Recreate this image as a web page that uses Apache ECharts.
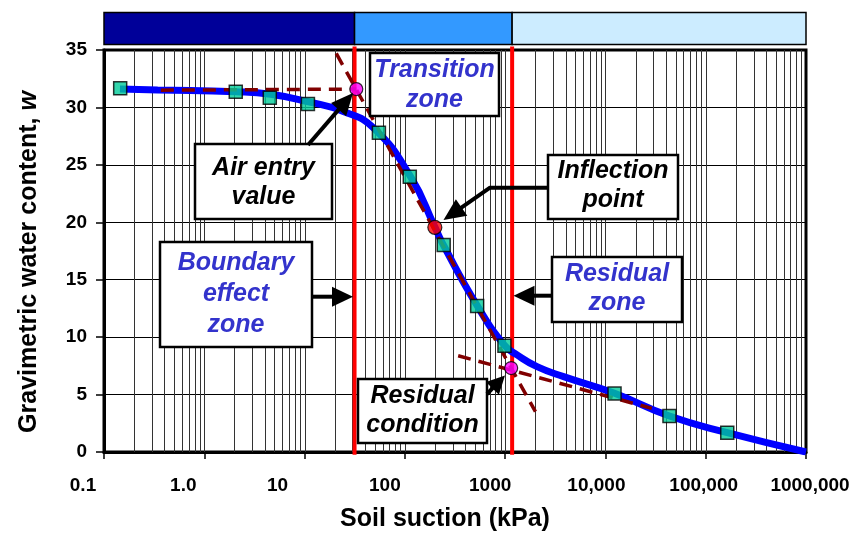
<!DOCTYPE html>
<html>
<head>
<meta charset="utf-8">
<script src="https://cdn.jsdelivr.net/npm/echarts@6/dist/echarts.min.js"></script>
<style>
html,body{margin:0;padding:0;background:#fff;}
#chart{width:864px;height:533px;}
</style>
</head>
<body>
<div id="chart"></div>
<script>
// ---------- data ----------
const suctionPts = [0.145, 2.06, 4.5, 10.8, 55.1, 112, 244, 526, 984, 12330, 43500, 164000];
const waterPts   = [31.66, 31.37, 30.85, 30.30, 27.80, 23.97, 18.02, 12.71, 9.24, 5.09, 3.13, 1.68];

const curveSuction = [0.1442, 0.343, 2.06, 4.6, 10.7, 24.7, 49.1, 114, 199, 243, 530, 984, 1315, 2080, 3830, 12330, 43500, 164000, 1000000];
const curveWater   = [31.6, 31.52, 31.37, 31.14, 30.5, 29.63, 28.18, 23.97, 19.6, 18.0, 12.7, 9.3, 8.45, 7.43, 6.56, 5.11, 3.13, 1.68, 0];

const airEntryPoint   = [32.8, 31.6];
const inflectionPoint = [199, 19.56];
const residualPoint   = [1148, 7.31];

const boundaryLines = [31.5, 1174];
const zoneBounds = [0.1, 31.5, 1174, 1000000];
const zoneColors = ['#000099', '#3399FF', '#CCECFF'];

const airEntryTangentX = [0.369, 32.8];
const airEntryTangentY = [31.5, 31.6];
const slopeTangentX = [20.7, 2005];
const slopeTangentY = [34.7, 3.51];
const residualTangentX = [340, 29000];
const residualTangentY = [8.38, 3.80];

const xTickLabels = ['0.1', '1.0', '10', '100', '1000', '10,000', '100,000', '1000,000'];
const xLabelShift = [-21, -21, -27, -20, -15, -9, -2, 4];
const yTicks = [0, 5, 10, 15, 20, 25, 30, 35];

// vertical log grid lines
const vGridValues = [];
for (let k = -1; k < 6; k++) {
  for (let m = 1; m <= 9; m++) {
    if (m === 1 && k === -1) continue;
    vGridValues.push(m * Math.pow(10, k));
  }
}

const FONT = "'Liberation Sans', Arial, sans-serif";

// ---------- build ----------
const chart = echarts.init(document.getElementById('chart'), null, {renderer: 'canvas'});

const rich = {};
xLabelShift.forEach((s, i) => {
  rich['l' + i] = {
    fontFamily: FONT, fontWeight: 'bold', fontSize: 19, color: '#000',
    padding: s < 0 ? [0, -2 * s, 0, 0] : [0, 0, 0, 2 * s]
  };
});

function zip(a, b) { return a.map((v, i) => [v, b[i]]); }

function arrow(pts, headLen, headHalf) {
  const n = pts.length;
  const tip = pts[n - 1], prev = pts[n - 2];
  const dx = tip[0] - prev[0], dy = tip[1] - prev[1];
  const len = Math.sqrt(dx * dx + dy * dy);
  const ux = dx / len, uy = dy / len;
  const bx = tip[0] - ux * headLen, by = tip[1] - uy * headLen;
  const shaft = pts.slice(0, n - 1).concat([[bx + ux * 2, by + uy * 2]]);
  return [
    {type: 'polyline', shape: {points: shaft}, style: {stroke: '#000', lineWidth: 4, fill: null, lineJoin: 'round'}, z: 120},
    {type: 'polygon', shape: {points: [tip, [bx - uy * headHalf, by + ux * headHalf], [bx + uy * headHalf, by - ux * headHalf]]},
     style: {fill: '#000'}, z: 121}
  ];
}

function box(x1, y1, x2, y2, text, color, cy, lh) {
  return [
    {type: 'rect', shape: {x: x1, y: y1, width: x2 - x1, height: y2 - y1},
     style: {fill: '#fff', stroke: '#000', lineWidth: 2.5}, z: 110},
    {type: 'text', x: (x1 + x2) / 2, y: cy,
     style: {text: text, fill: color, fontFamily: FONT, fontWeight: 'bold', fontStyle: 'italic',
             fontSize: 25, lineHeight: lh || 29, align: 'center', verticalAlign: 'middle'}, z: 111}
  ];
}

const BLUE_TXT = '#3333CC';
let graphics = [];
graphics = graphics
  .concat(box(370, 53, 499, 116, 'Transition\nzone', BLUE_TXT, 85, 30))
  .concat(box(195, 144, 332, 219, 'Air entry\nvalue', '#000', 182.5, 29))
  .concat(box(548, 155, 678, 219, 'Inflection\npoint', '#000', 186, 29))
  .concat(box(160, 242, 312, 347, 'Boundary\neffect\nzone', BLUE_TXT, 294, 31))
  .concat(box(552, 257, 682, 322, 'Residual\nzone', BLUE_TXT, 289, 29))
  .concat(box(358, 379, 487, 443, 'Residual\ncondition', '#000', 410.5, 29))
  .concat(arrow([[308, 145], [353, 93]], 22, 10))
  .concat(arrow([[549, 187.7], [490, 187.7], [443.5, 220]], 22, 10))
  .concat(arrow([[313, 296.7], [353, 296.7]], 21, 10))
  .concat(arrow([[551, 295.7], [513.5, 295.7]], 21, 10))
  .concat(arrow([[487, 394], [505, 375.5]], 18, 9));

const option = {
  animation: false,
  backgroundColor: '#fff',
  grid: [
    {left: 104, right: 58, top: 50, bottom: 81, show: true, borderColor: '#000', borderWidth: 3,
     backgroundColor: 'transparent', containLabel: false, outerBoundsMode: 'none'},
    {left: 104, right: 58, top: 12.5, height: 32, show: false, containLabel: false, outerBoundsMode: 'none'}
  ],
  xAxis: [
    {
      type: 'log', logBase: 10, min: 0.1, max: 1000000, interval: 1, gridIndex: 0,
      name: 'Soil suction (kPa)', nameLocation: 'middle', nameGap: 55,
      nameTextStyle: {fontFamily: FONT, fontWeight: 'bold', fontSize: 25, color: '#000', padding: [0, 20, 0, 0]},
      axisLine: {show: true, lineStyle: {color: '#000', width: 3}},
      axisTick: {show: true, inside: false, length: 7, lineStyle: {color: '#000', width: 1.5}},
      splitLine: {show: false},
      minorTick: {show: false},
      axisLabel: {
        margin: 24,
        formatter: function (v) {
          const i = Math.round(Math.log10(v)) + 1;
          return '{l' + i + '|' + xTickLabels[i] + '}';
        },
        rich: rich
      }
    },
    {type: 'log', logBase: 10, min: 0.1, max: 1000000, gridIndex: 1, show: false}
  ],
  yAxis: [
    {
      type: 'value', min: 0, max: 35, interval: 5, gridIndex: 0,
      name: '{a|Gravimetric water content, }{b|w}', nameLocation: 'middle', nameGap: 62, nameRotate: 90,
      nameTextStyle: {
        padding: [0, 22, 0, 0],
        rich: {
          a: {fontFamily: FONT, fontWeight: 'bold', fontSize: 25, color: '#000'},
          b: {fontFamily: FONT, fontWeight: 'bold', fontStyle: 'italic', fontSize: 25, color: '#000'}
        }
      },
      axisLine: {show: true, lineStyle: {color: '#000', width: 3}},
      axisTick: {show: true, inside: false, length: 8, lineStyle: {color: '#000', width: 1.5}},
      splitLine: {show: true, lineStyle: {color: '#000', width: 1}},
      axisLabel: {
        margin: 17, fontFamily: FONT, fontWeight: 'bold', fontSize: 19, color: '#000',
        formatter: function (v) { return yTicks.indexOf(v) >= 0 ? String(v) : ''; }
      }
    },
    {type: 'value', min: 0, max: 1, gridIndex: 1, show: false}
  ],
  series: [
    {
      name: 'vgrid', type: 'custom', xAxisIndex: 0, yAxisIndex: 0, z: 1, silent: true,
      data: vGridValues.map(v => [v]),
      renderItem: function (params, api) {
        const p1 = api.coord([api.value(0), 0]);
        const p2 = api.coord([api.value(0), 35]);
        const x = Math.round(p1[0]) + 0.5;
        return {type: 'line', shape: {x1: x, y1: p1[1], x2: x, y2: p2[1]},
                style: {stroke: '#333', lineWidth: 1}};
      }
    },
    {
      name: 'zones', type: 'custom', xAxisIndex: 1, yAxisIndex: 1, z: 2, silent: true,
      data: zoneColors.map((c, i) => [zoneBounds[i], zoneBounds[i + 1], i]),
      renderItem: function (params, api) {
        const a = api.coord([api.value(0), 1]);
        const b = api.coord([api.value(1), 0]);
        return {type: 'rect', shape: {x: a[0], y: a[1], width: b[0] - a[0], height: b[1] - a[1]},
                style: {fill: zoneColors[api.value(2)], stroke: '#000', lineWidth: 1.5}};
      }
    },
    {
      name: 'boundaries', type: 'custom', xAxisIndex: 0, yAxisIndex: 0, z: 3, silent: true,
      data: boundaryLines.map(v => [v]),
      renderItem: function (params, api) {
        const p1 = api.coord([api.value(0), -0.25]);
        const p2 = api.coord([api.value(0), 35.3]);
        return {type: 'line', shape: {x1: p1[0], y1: p1[1], x2: p2[0], y2: p2[1]},
                style: {stroke: '#FF0000', lineWidth: 4}};
      }
    },
    {
      name: 'SWCC', type: 'line', xAxisIndex: 0, yAxisIndex: 0, z: 4,
      data: zip(curveSuction, curveWater), smooth: 0.5,
      showSymbol: false, symbol: 'none',
      lineStyle: {color: '#0000FF', width: 7}
    },
    {
      name: 'tangent1', type: 'line', z: 5, data: zip(airEntryTangentX, airEntryTangentY), symbol: 'none',
      lineStyle: {color: '#800000', width: 3.5, type: [13, 8]}
    },
    {
      name: 'tangent2', type: 'line', z: 5, data: zip(slopeTangentX, slopeTangentY), symbol: 'none',
      lineStyle: {color: '#800000', width: 3.5, type: [13, 8]}
    },
    {
      name: 'tangent3', type: 'line', z: 5, data: zip(residualTangentX, residualTangentY), symbol: 'none',
      lineStyle: {color: '#800000', width: 3.5, type: [13, 8]}
    },
    {
      name: 'measured', type: 'scatter', z: 6, data: zip(suctionPts, waterPts),
      symbol: 'rect', symbolSize: 13,
      itemStyle: {color: '#00CC99', borderColor: '#000', borderWidth: 1.5}
    },
    {
      name: 'special', type: 'scatter', z: 7,
      data: [
        {value: airEntryPoint, itemStyle: {color: '#FF00FF'}},
        {value: inflectionPoint, itemStyle: {color: '#FF0000'}, symbolSize: 14},
        {value: residualPoint, itemStyle: {color: '#FF00FF'}}
      ],
      symbol: 'circle', symbolSize: 13,
      itemStyle: {borderColor: '#000', borderWidth: 1.2}
    }
  ],
  graphic: graphics
};
chart.setOption(option);
</script>
</body>
</html>
